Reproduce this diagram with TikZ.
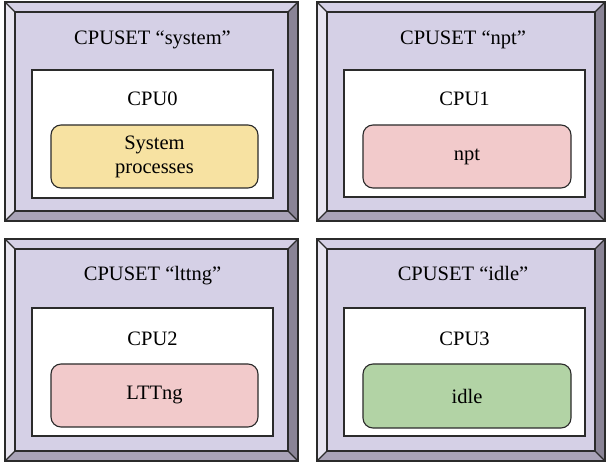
\documentclass[tikz,border=0pt]{standalone}
\usepackage{fontspec}
\setmainfont{Liberation Serif}
\usetikzlibrary{calc}
\definecolor{face}{HTML}{D5D0E6}
\definecolor{bevL}{HTML}{E8E5F1}
\definecolor{bevR}{HTML}{8A8496}
\definecolor{bevB}{HTML}{A9A3B7}
\definecolor{edge}{HTML}{2B2B2B}
\definecolor{procY}{HTML}{F7E2A2}
\definecolor{procP}{HTML}{F2CACB}
\definecolor{procG}{HTML}{B2D3A5}
\tikzset{
  frame/.style={fill=face, draw=edge, line width=1.1pt, inner sep=0pt, outer sep=0pt},
  cpubox/.style={fill=white, draw=edge, line width=1.1pt, inner sep=0pt, outer sep=0pt},
  proc/.style={draw=edge, line width=1.1pt, rounded corners=10pt, inner sep=0pt, outer sep=0pt,
    align=center, font=\fontsize{20.5}{24}\selectfont},
  lbl/.style={font=\fontsize{20.5}{24}\selectfont, inner sep=0pt, anchor=base},
  edgeline/.style={draw=edge, line width=1.1pt},
}
\newcommand\bevelframe[1]{%
  \coordinate (#1i1) at ($(#1.north west)+(10,10)$);
  \coordinate (#1i2) at ($(#1.north east)+(-10,10)$);
  \coordinate (#1i3) at ($(#1.south east)+(-10,-10)$);
  \coordinate (#1i4) at ($(#1.south west)+(10,-10)$);
  \fill[bevL] (#1.north west) -- (#1i1) -- (#1i4) -- (#1.south west) -- cycle;
  \fill[bevR] (#1.north east) -- (#1.south east) -- (#1i3) -- (#1i2) -- cycle;
  \fill[bevB] (#1.south west) -- (#1i4) -- (#1i3) -- (#1.south east) -- cycle;
  \draw[edgeline] (#1i1) rectangle (#1i3);
  \draw[edgeline] (#1.north west) -- (#1i1) (#1.north east) -- (#1i2)
                  (#1.south east) -- (#1i3) (#1.south west) -- (#1i4);
  \draw[edgeline] (#1.north west) rectangle (#1.south east);
}
\begin{document}
\begin{tikzpicture}[x=1pt,y=-1pt]
\useasboundingbox (0,0) rectangle (606,462);
% frames
\node[frame, minimum width=293pt, minimum height=219pt] (f0) at (151.5,111.5) {};
\node[frame, minimum width=288pt, minimum height=219pt] (f1) at (461,111.5) {};
\node[frame, minimum width=293pt, minimum height=222pt] (f2) at (151.5,350) {};
\node[frame, minimum width=288pt, minimum height=222pt] (f3) at (461,350) {};
\bevelframe{f0}
\bevelframe{f1}
\bevelframe{f2}
\bevelframe{f3}
% cpu boxes
\node[cpubox, minimum width=241pt, minimum height=128pt] (c0) at (152.5,134) {};
\node[cpubox, minimum width=241pt, minimum height=127pt] (c1) at (464.5,133.5) {};
\node[cpubox, minimum width=241pt, minimum height=128pt] (c2) at (152.5,372) {};
\node[cpubox, minimum width=241pt, minimum height=128pt] (c3) at (464.5,372) {};
% process boxes
\node[proc, fill=procY, minimum width=207pt, minimum height=63pt] (p0) at (154.5,156.5) {System\\processes};
\node[proc, fill=procP, minimum width=208pt, minimum height=63pt] (p1) at (467,156.5) {npt};
\node[proc, fill=procP, minimum width=207pt, minimum height=63pt] (p2) at (154.5,395.5) {LTTng};
\node[proc, fill=procG, minimum width=208pt, minimum height=64pt] (p3) at (467,396) {idle};
% titles
\node[lbl] (t0) at (152.5,45) {CPUSET “system”};
\node[lbl] (t1) at (463,45) {CPUSET “npt”};
\node[lbl] (t2) at (152.5,281) {CPUSET “lttng”};
\node[lbl] (t3) at (463,281) {CPUSET “idle”};
% cpu labels
\node[lbl] (l0) at (152.5,106) {CPU0};
\node[lbl] (l1) at (464.5,106) {CPU1};
\node[lbl] (l2) at (152.5,346) {CPU2};
\node[lbl] (l3) at (464.5,346) {CPU3};
\end{tikzpicture}
\end{document}
